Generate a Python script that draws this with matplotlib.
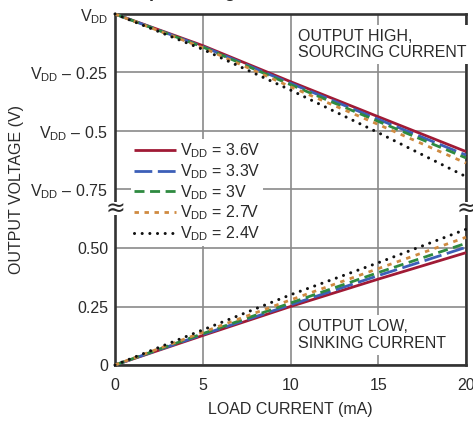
import matplotlib
matplotlib.use('Agg')
import matplotlib.pyplot as plt
from matplotlib.patches import Rectangle

plt.rcParams['font.family'] = ['Liberation Sans', 'DejaVu Sans']
plt.rcParams['mathtext.fontset'] = 'custom'
plt.rcParams['mathtext.rm'] = 'Liberation Sans'
plt.rcParams['mathtext.it'] = 'Liberation Sans'
plt.rcParams['mathtext.default'] = 'rm'

# load current (mA)
current = [0, 5, 10, 15, 20]

# supply voltages and drop from VDD when sourcing (V)
vdd_labels = ['3.6V', '3.3V', '3V', '2.7V', '2.4V']
drop_high = {
    '3.6V': [0, 0.135, 0.289, 0.439, 0.588],
    '3.3V': [0, 0.139, 0.296, 0.450, 0.603],
    '3V':   [0, 0.141, 0.302, 0.459, 0.615],
    '2.7V': [0, 0.144, 0.311, 0.472, 0.637],
    '2.4V': [0, 0.151, 0.325, 0.507, 0.695],
}
# output low voltage when sinking (V)
v_low = {
    '3.6V': [0, 0.126, 0.250, 0.367, 0.480],
    '3.3V': [0, 0.130, 0.257, 0.382, 0.503],
    '3V':   [0, 0.134, 0.265, 0.395, 0.520],
    '2.7V': [0, 0.140, 0.278, 0.412, 0.546],
    '2.4V': [0, 0.150, 0.300, 0.437, 0.580],
}

colors = ['#a01a35', '#3c5fb8', '#2e8a40', '#cf8a40', '#111111']
dashes = [None, (6.4, 2.0), (3.6, 2.0), (1.6, 2.0), (0.01, 2.5)]

ytick_pos = [0, 0.25, 0.5, 0.75, 1.0, 1.25, 1.5]
ytick_lab = ['0', '0.25', '0.50', r'V$_{\rm DD}$ – 0.75', r'V$_{\rm DD}$ – 0.5',
             r'V$_{\rm DD}$ – 0.25', r'V$_{\rm DD}$']
top_offset = 1.5  # plotted position of VDD on the shared axis

fig = plt.figure(figsize=(4.73, 4.23), dpi=100)
ax = fig.add_axes([115 / 473, 1 - 365 / 423, 351 / 473, 351 / 423])

txt = '#2a2a2a'
fs = 11.5
for lab, c, d in zip(vdd_labels, colors, dashes):
    lw = 2.2 if lab == '2.4V' else 2.0
    hi = [top_offset - v for v in drop_high[lab]]
    ln, = ax.plot(current, hi, color=c, lw=lw, label=r'V$_{\rm DD}$ = ' + lab,
                  solid_capstyle='butt', clip_on=False, zorder=3)
    ln2, = ax.plot(current, v_low[lab], color=c, lw=lw, solid_capstyle='butt',
                   clip_on=False, zorder=3)
    if d is not None:
        for l in (ln, ln2):
            l.set_dashes(d)
            l.set_dash_capstyle('round' if lab == '2.4V' else 'butt')

ax.set_xlim(0, 20)
ax.set_ylim(0, 1.5)
ax.set_xticks([0, 5, 10, 15, 20])
ax.set_yticks(ytick_pos)
ax.set_yticklabels(ytick_lab)
ax.tick_params(length=0, labelsize=fs, colors=txt)
ax.tick_params(axis='x', pad=9)
ax.tick_params(axis='y', pad=5)
ax.grid(True, color='#8a8a8a', lw=1.2)
ax.set_axisbelow(True)
for s in ax.spines.values():
    s.set_color('#333333')
    s.set_linewidth(1.9)

ax.set_xlabel('LOAD CURRENT (mA)', fontsize=fs, color=txt, labelpad=7)
ax.set_ylabel('OUTPUT VOLTAGE (V)', fontsize=fs, color=txt, labelpad=4.5)

# axis break marks
for xb in (0, 1):
    ax.add_patch(Rectangle((xb - 0.02, 0.64), 0.04, 0.055, transform=ax.get_yaxis_transform(),
                           facecolor='white', edgecolor='none', clip_on=False, zorder=4))
    ax.text(xb, 0.667, '≈', transform=ax.get_yaxis_transform(), ha='center', va='center',
            fontsize=17, color=txt, family='DejaVu Sans', clip_on=False, zorder=5)

leg = ax.legend(loc='upper left', bbox_to_anchor=(0.045, 0.645), fontsize=fs,
                handlelength=2.6, handletextpad=0.25, labelspacing=0.12,
                borderpad=0.2, borderaxespad=0, frameon=True, fancybox=False)
leg.get_frame().set_facecolor('white')
leg.get_frame().set_edgecolor('none')
leg.get_frame().set_alpha(1)
for t in leg.get_texts():
    t.set_color(txt)
leg.set_zorder(6)

ax.text(10.45, 1.37, 'OUTPUT HIGH,\nSOURCING CURRENT', fontsize=fs, color=txt,
        va='center', ha='left', linespacing=1.1,
        bbox=dict(facecolor='white', edgecolor='none', pad=3), zorder=5)
ax.text(10.45, 0.128, 'OUTPUT LOW,\nSINKING CURRENT', fontsize=fs, color=txt,
        va='center', ha='left', linespacing=1.1,
        bbox=dict(facecolor='white', edgecolor='none', pad=3), zorder=5)

# title cut off by the top edge in the source image
fig.text(0.25, 1.0 + 3 / 423, 'Output Voltage', fontsize=13, fontweight='bold', color=txt,
         va='baseline', ha='left')

fig.savefig('out.png', dpi=100)
